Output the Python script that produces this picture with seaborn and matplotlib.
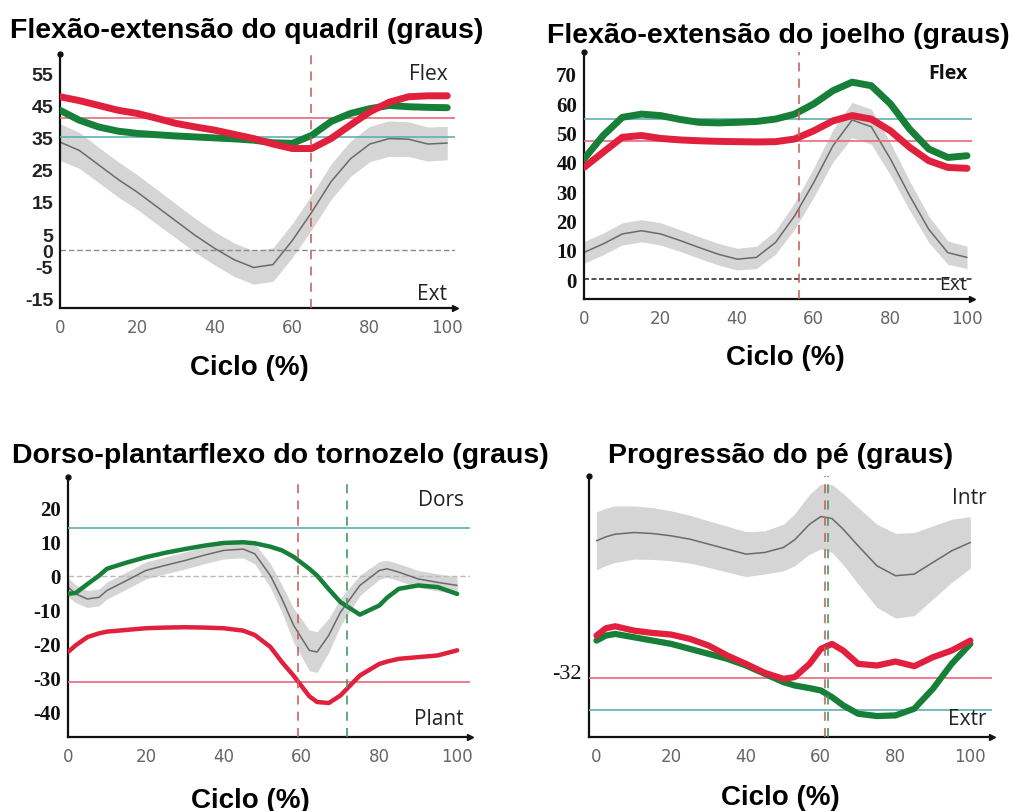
import numpy as np
import pandas as pd
import matplotlib
matplotlib.use('Agg')
import matplotlib.pyplot as plt
import seaborn as sns

sns.set_theme(style='white')
plt.rcParams['font.family'] = ['Liberation Sans', 'DejaVu Sans']

RED = '#e0203c'
GREEN = '#178038'
TEAL = '#5fb0b0'
RED_REF = '#e86a7c'
BAND = '#d5d5d5'
MEAN = '#6a6a6a'
SANS = ['Open Sans', 'DejaVu Sans']
SERIF = ['Liberation Serif', 'DejaVu Serif']

# Quadril
hip_x = [0, 5, 10, 15, 20, 25, 30, 35, 40, 45, 50, 55, 60, 65, 70, 75, 80, 85, 90, 95, 100]
hip_norm = [33.6, 31, 26.5, 22, 18, 13.5, 9, 4.5, 0.5, -3, -5.4, -4.5, 3, 11.8, 21.3, 28.4, 33, 34.7, 34.5, 33, 33.3]
hip_sd = [5.7, 5.6, 5.5, 5.5, 5.4, 5.4, 5.3, 5.3, 5.2, 5.2, 5.2, 5.2, 5.3, 5.4, 5.5, 5.5, 5.5, 5.5, 5.4, 5.3, 5.2]
hip_red = [47.7, 46.5, 45, 43.5, 42.5, 41, 39.4, 38.3, 37.3, 36, 34.7, 33, 31.6, 31.6, 34.7, 38.9, 43, 46, 47.7, 48, 48]
hip_green = [43.5, 40.4, 38.3, 37, 36.3, 35.9, 35.5, 35.2, 34.9, 34.6, 34.2, 33.4, 33.2, 35.7, 40, 42.5, 44, 45, 44.6, 44.4, 44.3]
hip_ref_red = 41.2
hip_ref_teal = 35.2
hip_toe_off = [64.7]

# Joelho
knee_x = [0, 5, 10, 15, 20, 25, 30, 35, 40, 45, 50, 55, 60, 65, 70, 75, 80, 85, 90, 95, 100]
knee_norm = [9.1, 12, 15.4, 16.5, 15.4, 13.2, 10.8, 8.5, 6.8, 7.4, 12.5, 21.6, 33, 45.5, 54.3, 52, 41, 28.5, 17, 9, 7.4]
knee_sd = [3.7, 3.7, 3.8, 3.8, 3.8, 3.7, 3.7, 3.7, 3.7, 3.8, 4, 4.5, 5, 5.5, 6, 6, 5.5, 5, 4.5, 4, 3.8]
knee_red = [38.1, 43.3, 48.4, 49, 48, 47.5, 47.2, 47, 46.9, 46.8, 46.9, 47.8, 50.6, 54, 55.8, 54.6, 50.6, 45, 40.4, 38.1, 37.8]
knee_green = [41, 49, 55.2, 56.3, 55.8, 54.5, 53.5, 53.3, 53.5, 53.8, 54.6, 56.3, 59.8, 64.3, 67.2, 66, 59.8, 51.2, 44.4, 41.5, 42.1]
knee_ref_red = 47.2
knee_ref_teal = 54.6
knee_toe_off = [56.2]

# Tornozelo
ankle_x = [0, 2, 5, 8, 10, 15, 20, 25, 30, 35, 40, 45, 48, 52, 55, 58, 62, 64, 67, 70, 75, 80, 82, 85, 90, 95, 100]
ankle_norm = [-3.4, -5.4, -6.9, -6.4, -4.4, -1.5, 1.5, 3, 4.4, 6, 7.4, 7.8, 6.4, 0, -6.9, -14.7, -22, -22.5, -17.6, -10.8, -2.9, 1.5, 2, 1, -1, -2, -2.9]
ankle_sd = [2.8, 2.6, 2.5, 2.5, 2.5, 2.5, 2.5, 2.5, 2.5, 2.5, 2.5, 2.6, 3, 3.5, 4, 5, 6, 6, 5, 4, 3, 2.6, 2.5, 2.5, 2.5, 2.5, 2.5]
ankle_red = [-22.5, -20.5, -18.1, -17, -16.5, -16, -15.5, -15.3, -15.2, -15.3, -15.5, -16.2, -17.5, -21, -25.5, -29.5, -35.5, -37.2, -37.5, -35.3, -29.4, -26, -25.3, -24.5, -24, -23.5, -22]
ankle_green = [-5.4, -5.1, -2.5, 0, 2, 3.8, 5.4, 6.7, 7.8, 8.8, 9.6, 9.8, 9.5, 8.5, 7.4, 5.5, 2, 0, -4, -7.8, -11.5, -8.8, -6.5, -3.9, -2.9, -3.4, -5.4]
ankle_ref_red = -31.2
ankle_ref_teal = 13.9
ankle_toe_off = [59, 71.7]

# Pe
foot_x = [0, 2.5, 5, 10, 15, 20, 25, 30, 35, 40, 45, 50, 53, 57, 60, 63, 66, 70, 75, 80, 85, 90, 95, 100]
foot_norm = [7, 8.2, 9, 9.5, 9.2, 8.5, 7.5, 6, 4.5, 3, 3.5, 5, 7.3, 12, 14.3, 13.7, 10.5, 5.5, -0.5, -3.5, -3, 0.5, 4, 6.5]
foot_sd = [8.75, 8.6, 8.5, 8, 7.8, 7.5, 7.2, 7, 6.9, 6.75, 6.5, 7, 7.8, 9, 9.75, 10.2, 10.7, 11.5, 12.5, 12.75, 12.5, 11, 9.5, 7.75]
foot_red = [-21.5, -19.3, -18.7, -20, -20.7, -21.2, -22.5, -24.5, -27.5, -30, -32.7, -34.5, -34, -30, -25.5, -24, -26, -30, -30.5, -29.3, -30.7, -28, -26, -23]
foot_green = [-23, -21.5, -21, -22, -23, -24, -25.5, -27, -28.5, -30.5, -33, -35.5, -36.5, -37.3, -38, -40, -42.5, -45, -45.7, -45.5, -43.5, -37.5, -30, -24]
foot_ref_red = -34.3
foot_ref_teal = -44
foot_toe_off = [61.2, 62]

W, H = 1012, 812
fig = plt.figure(figsize=(W / 100, H / 100), dpi=100)


def box(l, t, r, b):
    return [l / W, 1 - b / H, (r - l) / W, (b - t) / H]


def draw_panel(ax, x, norm, sd, red, green, ref_red, ref_teal, toe_off, lw):
    x = np.array(x)
    norm = np.array(norm)
    sd = np.array(sd)
    ax.fill_between(x, norm - sd, norm + sd, color=BAND, lw=0, zorder=1)
    sns.lineplot(x=x, y=norm, color=MEAN, lw=1.1, ax=ax, zorder=2)
    ax.axhline(ref_red, color=RED_REF, lw=1.2, zorder=3)
    ax.axhline(ref_teal, color=TEAL, lw=1.2, zorder=3)
    df = pd.DataFrame({
        'ciclo': np.concatenate([x, x]),
        'valor': np.concatenate([green, red]),
        'grupo': ['verde'] * len(x) + ['vermelho'] * len(x),
    })
    sns.lineplot(data=df, x='ciclo', y='valor', hue='grupo',
                 palette={'verde': GREEN, 'vermelho': RED}, lw=lw,
                 legend=False, ax=ax, zorder=4)
    cols = ['#c9605f', '#3f9a5c']
    for i, v in enumerate(toe_off):
        ax.axvline(v, color=cols[i], lw=1.3, dashes=(5, 4), zorder=5, alpha=0.9)
    ax.set_xlabel('')
    ax.set_ylabel('')
    for s in ['top', 'right']:
        ax.spines[s].set_visible(False)
    for s in ['left', 'bottom']:
        ax.spines[s].set_color('#111111')
        ax.spines[s].set_linewidth(1.6)
    ax.set_xticks([0, 20, 40, 60, 80, 100])
    ax.tick_params(axis='x', length=0, pad=7, labelsize=12, labelcolor='#666666')
    ax.tick_params(axis='y', length=2, width=1, color='#111111', pad=3)
    for lab in ax.get_xticklabels():
        lab.set_family(['DejaVu Sans'])
    ax.plot([0], [1], marker='o', ms=3.5, color='#111111', transform=ax.transAxes, clip_on=False)
    ax.plot([1], [0], marker='>', ms=5, color='#111111', transform=ax.transAxes, clip_on=False)


# painel 1
ax1 = fig.add_axes(box(60, 55, 455, 309))
draw_panel(ax1, hip_x, hip_norm, hip_sd, hip_red, hip_green, hip_ref_red, hip_ref_teal, hip_toe_off, 5)
ax1.axhline(0, color='#8a8a8a', lw=1, dashes=(4, 2), zorder=1.5)
ax1.set_xlim(0, 102)
ax1.set_ylim(-18, 61)
ax1.set_yticks([55, 45, 35, 25, 15, 5, 0, -5, -15])
ax1.set_yticklabels(['55', '45', '35', '25', '15', '5', '0', '-5', '-15'],
                    fontsize=14, color='#222222', fontweight='bold')
ax1.text(100, 55, 'Flex', ha='right', va='center', fontsize=15, color='#222222', family=SANS)
ax1.text(100, -13.5, 'Ext', ha='right', va='center', fontsize=15, color='#222222', family=SANS)

# painel 2
ax2 = fig.add_axes(box(584, 53, 972, 300))
draw_panel(ax2, knee_x, knee_norm, knee_sd, knee_red, knee_green, knee_ref_red, knee_ref_teal, knee_toe_off, 5)
ax2.axhline(0, color='#333333', lw=1.2, dashes=(3, 1.5), zorder=1.5)
ax2.set_xlim(0, 101.3)
ax2.set_ylim(-6.8, 77.5)
ax2.set_yticks([0, 10, 20, 30, 40, 50, 60, 70])
ax2.set_yticklabels(['0', '10', '20', '30', '40', '50', '60', '70'],
                    fontsize=15, color='#111111', family=SERIF, fontweight='bold')
ax2.text(100, 70.5, 'Flex', ha='right', va='center', fontsize=14, color='#111111', fontweight='bold', family=SANS)
ax2.text(100, -1.7, 'Ext', ha='right', va='center', fontsize=14, color='#222222', family=SANS)

# painel 3
ax3 = fig.add_axes(box(68, 478, 470, 738))
draw_panel(ax3, ankle_x, ankle_norm, ankle_sd, ankle_red, ankle_green, ankle_ref_red, ankle_ref_teal, ankle_toe_off, 3.2)
ax3.axhline(0, color='#bbbbbb', lw=1, dashes=(4, 2), zorder=1.5)
ax3.set_xlim(0, 103.3)
ax3.set_ylim(-47.5, 29)
ax3.set_yticks([20, 10, 0, -10, -20, -30, -40])
ax3.set_yticklabels(['20', '10', '0', '-10', '-20', '-30', '-40'],
                    fontsize=15, color='#111111', family=SERIF, fontweight='bold')
ax3.text(101.7, 22.5, 'Dors', ha='right', va='center', fontsize=15, color='#222222', family=SANS)
ax3.text(101.7, -42.2, 'Plant', ha='right', va='center', fontsize=15, color='#222222', family=SANS)

# painel 4
ax4 = fig.add_axes(box(589, 477, 992, 738))
draw_panel(ax4, foot_x, foot_norm, foot_sd, foot_red, foot_green, foot_ref_red, foot_ref_teal, foot_toe_off, 4.5)
ax4.set_xlim(-2, 105.8)
ax4.set_ylim(-52, 26.5)
ax4.set_yticks([-32])
ax4.set_yticklabels(['-32'], fontsize=16, color='#111111', family=SERIF)
ax4.text(104.3, 20, 'Intr', ha='right', va='center', fontsize=15, color='#222222', family=SANS)
ax4.text(104.3, -46.5, 'Extr', ha='right', va='center', fontsize=15, color='#222222', family=SANS)

# titulos
titles = ['Flexão-extensão do quadril (graus)', 'Flexão-extensão do joelho (graus)',
          'Dorso-plantarflexo do tornozelo (graus)', 'Progressão do pé (graus)']
title_pos = [(10, 38), (547, 43), (12, 463), (608, 463)]
for t, (px, py) in zip(titles, title_pos):
    fig.text(px / W, 1 - py / H, t, ha='left', va='baseline', fontsize=20.5, fontweight='bold', color='#000000')

xlab_pos = [(249, 375), (785, 365), (250, 808), (780, 805)]
for px, py in xlab_pos:
    fig.text(px / W, 1 - py / H, 'Ciclo (%)', ha='center', va='baseline', fontsize=20, fontweight='bold', color='#000000')

fig.savefig('out.png', dpi=100)
